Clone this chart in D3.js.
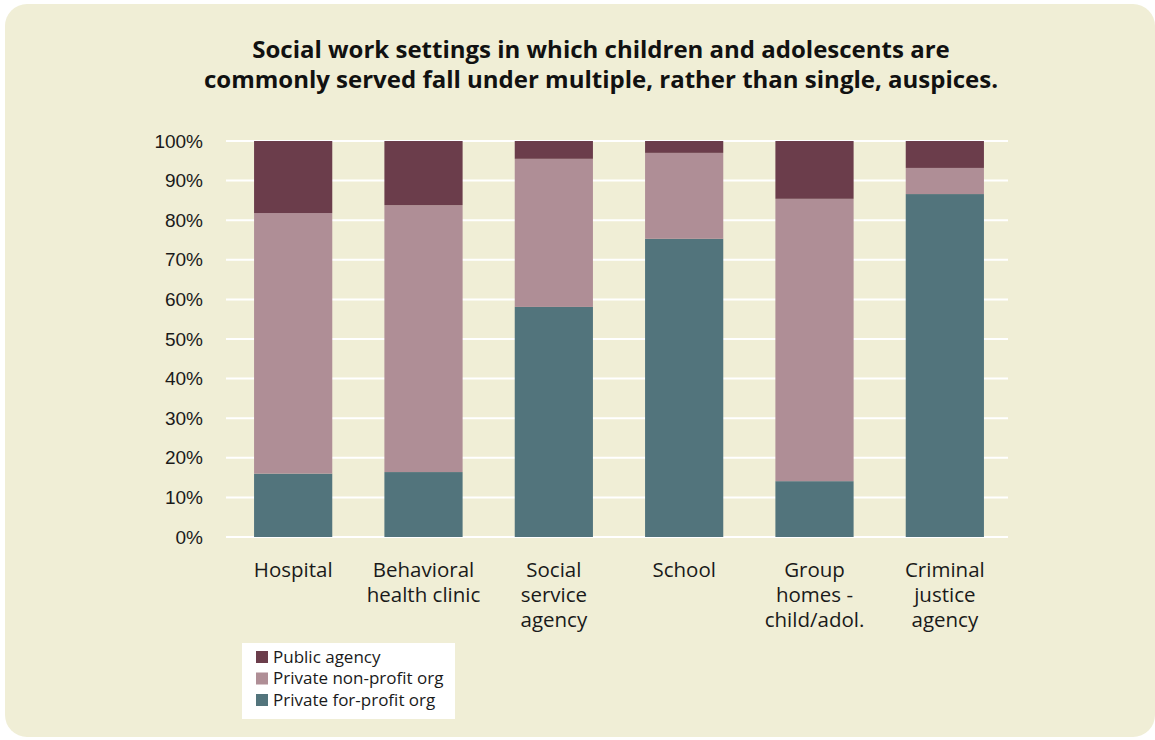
<!DOCTYPE html>
<html>
<head>
<meta charset="utf-8">
<script src="https://cdn.jsdelivr.net/npm/d3@7"></script>
<style>
  body { margin: 0; background: #ffffff; }
  svg { display: block; }
  .title { font-family: "Open Sans", "Noto Sans", sans-serif; font-weight: 700; fill: #111; }
  .ytick text { font-family: "Liberation Sans", Arial, sans-serif; font-size: 19px; fill: #1a1a1a; }
  .xlabel { font-family: "Open Sans", "Noto Sans", sans-serif; font-size: 20.5px; fill: #1a1a1a; }
  .legend text { font-family: "Open Sans", "Noto Sans", sans-serif; font-size: 17px; fill: #1a1a1a; }
</style>
</head>
<body>
<svg width="1155" height="740"></svg>
<script>
// Settings (x axis) and the share of each auspice, in percent
const categories = [
  ["Hospital"],
  ["Behavioral", "health clinic"],
  ["Social", "service", "agency"],
  ["School"],
  ["Group", "homes -", "child/adol."],
  ["Criminal", "justice", "agency"],
];
const forProfit = [16, 16.4, 58.1, 75.3, 14.1, 86.6];
const nonProfit = [65.8, 67.4, 37.4, 21.7, 71.3, 6.6];
const publicAgency = [18.2, 16.2, 4.5, 3.0, 14.6, 6.8];

const seriesNames = ["Private for-profit org", "Private non-profit org", "Public agency"];
const seriesValues = [forProfit, nonProfit, publicAgency];
const colors = ["#52747c", "#af8e96", "#6b3d4b"];
const yTicks = [0, 10, 20, 30, 40, 50, 60, 70, 80, 90, 100];

const svg = d3.select("svg");

// Panel background with rounded corners
svg.append("rect")
  .attr("x", 5).attr("y", 4)
  .attr("width", 1150).attr("height", 733)
  .attr("rx", 22)
  .attr("fill", "#f0eed6");

// Title
const title = svg.append("text")
  .attr("class", "title")
  .attr("text-anchor", "middle")
  .attr("font-size", 24);
title.append("tspan").attr("x", 601).attr("y", 58)
  .text("Social work settings in which children and adolescents are");
title.append("tspan").attr("x", 601).attr("y", 88)
  .text("commonly served fall under multiple, rather than single, auspices.");

// Scales
const x = d3.scaleBand()
  .domain(d3.range(categories.length))
  .range([228, 1010])
  .paddingInner(0.4)
  .paddingOuter(0.2);

const y = d3.scaleLinear()
  .domain([0, 100])
  .range([537, 141]);

// Gridlines + y labels
const yAxis = svg.append("g").attr("class", "ytick");
yAxis.selectAll("line")
  .data(yTicks)
  .join("line")
  .attr("x1", 226).attr("x2", 1008)
  .attr("y1", (d) => y(d)).attr("y2", (d) => y(d))
  .attr("stroke", "#ffffff")
  .attr("stroke-width", 2);
yAxis.selectAll("text")
  .data(yTicks)
  .join("text")
  .attr("x", 203)
  .attr("y", (d) => y(d))
  .attr("dy", "0.35em")
  .attr("text-anchor", "end")
  .text((d) => d + "%");

// Stacked bars
const rows = categories.map((c, i) => {
  const r = { i };
  seriesNames.forEach((s, k) => (r[s] = seriesValues[k][i]));
  return r;
});
const stacked = d3.stack().keys(seriesNames)(rows);

svg.append("g")
  .selectAll("g")
  .data(stacked)
  .join("g")
  .attr("fill", (d, k) => colors[k])
  .selectAll("rect")
  .data((d) => d)
  .join("rect")
  .attr("x", (d) => x(d.data.i))
  .attr("width", x.bandwidth())
  .attr("y", (d) => y(d[1]))
  .attr("height", (d) => y(d[0]) - y(d[1]));

// Category labels (one text per line)
const labelGroups = svg.append("g")
  .selectAll("g")
  .data(categories)
  .join("g")
  .attr("transform", (d, i) => `translate(${x(i) + x.bandwidth() / 2}, 577)`);
labelGroups.selectAll("text")
  .data((d) => d)
  .join("text")
  .attr("class", "xlabel")
  .attr("text-anchor", "middle")
  .attr("y", (d, j) => j * 25)
  .text((d) => d);

// Legend
const legend = svg.append("g").attr("class", "legend");
legend.append("rect")
  .attr("x", 242).attr("y", 643)
  .attr("width", 213).attr("height", 76)
  .attr("fill", "#ffffff");

const legendOrder = [2, 1, 0];
const items = legend.selectAll("g.item")
  .data(legendOrder)
  .join("g")
  .attr("class", "item")
  .attr("transform", (d, j) => `translate(256, ${651 + j * 21.5})`);
items.append("rect")
  .attr("width", 12).attr("height", 12)
  .attr("fill", (k) => colors[k]);
items.append("text")
  .attr("x", 17)
  .attr("y", 6)
  .attr("dy", "0.35em")
  .text((k) => seriesNames[k]);
</script>
</body>
</html>
